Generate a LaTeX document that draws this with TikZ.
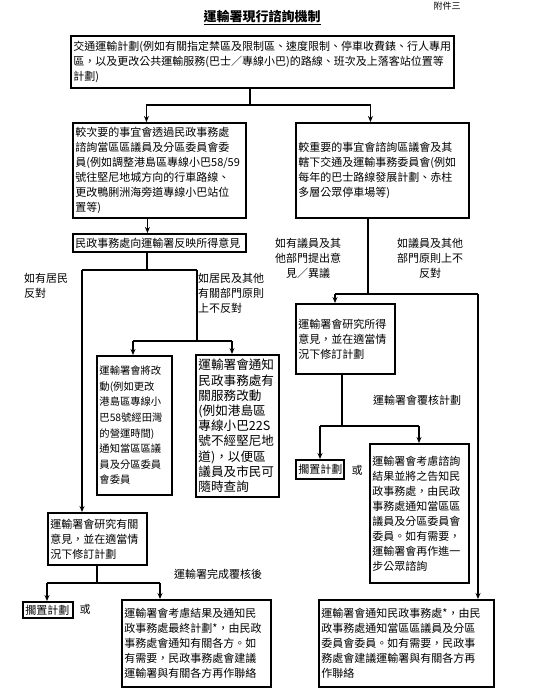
\documentclass[tikz,border=0pt]{standalone}
\usepackage{fontspec}
\newfontfamily\cjk{Noto Sans CJK TC}
\usetikzlibrary{arrows.meta,calc}
\begin{document}
\begin{tikzpicture}[x=1pt,y=-1pt,
  font=\cjk\fontsize{11}{15}\selectfont,
  box/.style={draw, line width=1.9pt, anchor=north west, align=left, inner xsep=2.5pt, inner ysep=2pt},
  conn/.style={line width=1.3pt},
  arr/.style={conn, -{Stealth[length=6pt,width=5pt]}},
  lbl/.style={inner sep=0pt}]
\useasboundingbox (0,0) rectangle (539,696);

% title
\node[lbl, font=\cjk\fontsize{9}{11}\selectfont, anchor=north] (annex) at (447,1.5) {附件三};
\node[lbl, font=\cjk\bfseries\fontsize{13}{15}\selectfont] (title) at (262,18) {\underline{運輸署現行諮詢機制}};

% boxes
\node[box, text width=378pt, minimum height=52pt] (top) at (70,35)
  {交通運輸計劃(例如有關指定禁區及限制區、速度限制、停車收費錶、行人專用\\區，以及更改公共運輸服務(巴士／專線小巴)的路線、班次及上落客站位置等\\計劃)};

\node[box, text width=168pt, minimum height=95pt] (b1) at (72,122)
  {較次要的事宜會透過民政事務處\\諮詢當區區議員及分區委員會委\\員(例如調整港島區專線小巴58/59\\號往堅尼地城方向的行車路線、\\更改鴨脷洲海旁道專線小巴站位\\置等)};

\node[box, text width=168pt, minimum height=95pt] (b2) at (295,122)
  {較重要的事宜會諮詢區議會及其\\轄下交通及運輸事務委員會(例如\\每年的巴士路線發展計劃、赤柱\\多層公眾停車場等)};

\node[box, text width=168pt, minimum height=18pt] (b3) at (72,233)
  {民政事務處向運輸署反映所得意見};

\node[box, text width=70pt, minimum height=139pt, font=\cjk\fontsize{10.3}{15.6}\selectfont] (bA) at (96,355)
  {運輸署會將改\\動(例如更改\\港島區專線小\\巴58號經田灣\\的營運時間)\\通知當區區議\\員及分區委員\\會委員};

\node[box, text width=78pt, minimum height=142pt, font=\cjk\fontsize{12.6}{15.2}\selectfont] (bB) at (195,354)
  {運輸署會通知\\民政事務處有\\關服務改動\\(例如港島區\\專線小巴22S\\號不經堅尼地\\道)，以便區\\議員及市民可\\隨時查詢};

\node[box, text width=94pt, minimum height=52pt] (b5) at (47,512)
  {運輸署會研究有關\\意見，並在適當情\\況下修訂計劃};

\node[box, text width=45pt, minimum height=16pt, inner ysep=1pt] (k1) at (22,601) {擱置計劃};
\node[lbl] (or1) at (85,609) {或};

\node[box, text width=144pt, minimum height=87pt] (b7) at (121,599)
  {運輸署會考慮結果及通知民\\政事務處最終計劃*，由民政\\事務處會通知有關各方。如\\有需要，民政事務處會建議\\運輸署與有關各方再作聯絡};

\node[box, text width=94pt, minimum height=70pt] (r2) at (295,303)
  {運輸署會研究所得\\意見，並在適當情\\況下修訂計劃};

\node[box, text width=43pt, minimum height=19pt, inner ysep=1pt] (k2) at (295,459) {擱置計劃};
\node[lbl] (or2) at (357,470) {或};

\node[box, text width=94pt, minimum height=139pt] (r3) at (369,443)
  {運輸署會考慮諮詢\\結果並將之告知民\\政事務處，由民政\\事務處通知當區區\\議員及分區委員會\\委員。如有需要，\\運輸署會再作進一\\步公眾諮詢};

\node[box, text width=170pt, minimum height=87pt] (b8) at (318,599)
  {運輸署會通知民政事務處*，由民\\政事務處通知當區區議員及分區\\委員會委員。如有需要，民政事\\務處會建議運輸署與有關各方再\\作聯絡};

% labels
\node[lbl, anchor=north west, align=left] (l1) at (24,273) {如有居民\\反對};
\node[lbl, anchor=north west, align=left] (l2) at (198,273) {如居民及其他\\有關部門原則\\上不反對};
\node[lbl, align=center] (l3) at (308,258) {如有議員及其\\他部門提出意\\見／異議};
\node[lbl, align=center] (l4) at (430,258) {如議員及其他\\部門原則上不\\反對};
\node[lbl] (l5) at (417,400) {運輸署會覆核計劃};
\node[lbl] (l6) at (218,574) {運輸署完成覆核後};

% connectors
\coordinate (j1) at (250,105);
\draw[conn] (top.south -| j1) -- (j1);
\draw[arr] (j1) -| ([xshift=-13pt]b1.north);
\draw[arr] (j1) -| ([xshift=-12pt]b2.north);
\draw[arr] ([xshift=-12pt]b1.south) -- ([xshift=-12pt]b3.north);

\coordinate (j2) at (147,270);
\coordinate (jL) at (82,270);
\coordinate (jR) at (197,270);
\draw[conn] (b3.south -| j2) -- (j2);
\draw[conn] (jL) -- (jR);
\draw[arr] (jL) -- (jL |- b5.north);
\coordinate (j3) at (197,341);
\coordinate (j3L) at (133,341);
\coordinate (j3R) at (232,341);
\draw[conn] (jR) -- (j3);
\draw[conn] (j3L) -- (j3R);
\draw[arr] (j3L) -- (j3L |- bA.north);
\draw[arr] (j3R) -- (j3R |- bB.north);

\coordinate (j4) at (97,583);
\coordinate (j4L) at (47,583);
\coordinate (j4R) at (160,583);
\draw[conn] (b5.south -| j4) -- (j4);
\draw[conn] (j4L) -- (j4R);
\draw[arr] (j4L) -- (j4L |- k1.north);
\draw[arr] (j4R) -- (j4R |- b7.north);

\coordinate (j5) at (368,294);
\coordinate (j5L) at (335,294);
\coordinate (j5R) at (478,294);
\draw[conn] (b2.south -| j5) -- (j5);
\draw[conn] (j5L) -- (j5R);
\draw[arr] (j5L) -- (j5L |- r2.north);
\draw[arr] (j5R) -- (j5R |- b8.north);

\coordinate (j6) at (342,426);
\coordinate (j6L) at (320,426);
\coordinate (j6R) at (419,426);
\draw[conn] (r2.south -| j6) -- (j6);
\draw[conn] (j6L) -- (j6R);
\draw[arr] (j6L) -- (j6L |- k2.north);
\draw[arr] (j6R) -- (j6R |- r3.north);
\end{tikzpicture}
\end{document}
